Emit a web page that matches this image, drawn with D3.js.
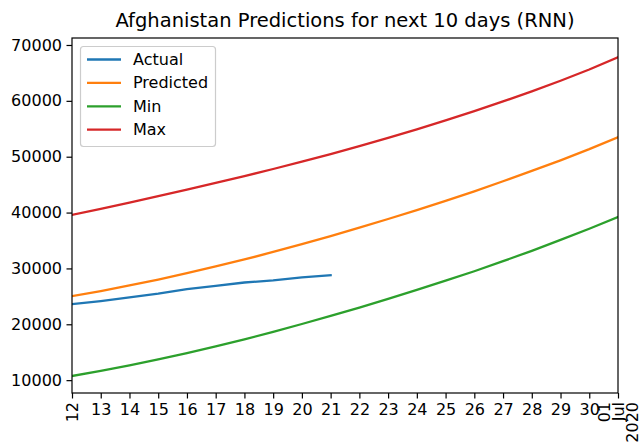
<!DOCTYPE html>
<html>
<head>
<meta charset="utf-8">
<script src="https://cdn.jsdelivr.net/npm/d3@7"></script>
<style>
  html, body { margin: 0; padding: 0; background: #fff; }
  svg { display: block; font-family: "DejaVu Sans", sans-serif; }
</style>
</head>
<body>
<svg id="chart" width="641" height="442"></svg>
<script>
// Daily dates shown on the x axis (June 12 – July 1, 2020)
const dates = [
  "2020-06-12", "2020-06-13", "2020-06-14", "2020-06-15", "2020-06-16",
  "2020-06-17", "2020-06-18", "2020-06-19", "2020-06-20", "2020-06-21",
  "2020-06-22", "2020-06-23", "2020-06-24", "2020-06-25", "2020-06-26",
  "2020-06-27", "2020-06-28", "2020-06-29", "2020-06-30", "2020-07-01"
];

// Confirmed cases observed so far (first 10 days)
const actual = [23600, 24150, 24800, 25480, 26280, 26870, 27480, 27870, 28380, 28790];

// Model output
const predicted = [25050, 25950, 26950, 28000, 29150, 30350, 31600, 32950, 34350, 35800,
                   37300, 38850, 40450, 42100, 43800, 45600, 47450, 49350, 51350, 53500];
const minimum   = [10750, 11650, 12650, 13700, 14850, 16050, 17300, 18650, 20050, 21500,
                   23000, 24550, 26150, 27800, 29500, 31300, 33150, 35100, 37100, 39200];
const maximum   = [39600, 40680, 41790, 42930, 44100, 45300, 46530, 47800, 49110, 50470,
                   51890, 53370, 54910, 56510, 58170, 59890, 61690, 63590, 65620, 67800];

const seriesNames  = ["Actual", "Predicted", "Min", "Max"];
const seriesColors = ["#1f77b4", "#ff7f0e", "#2ca02c", "#d62728"];

const yTicks = [10000, 20000, 30000, 40000, 50000, 60000, 70000];
const yLimits = [7700, 71250];
const minorTickLabels = ["13", "14", "15", "16", "17", "18", "19", "20", "21",
                         "22", "23", "24", "25", "26", "27", "28", "29", "30"];
const majorTickLabels = [["12"], ["01", "Jul", "2020"]];

const titleText = "Afghanistan Predictions for next 10 days (RNN)";

// ---- layout ----
const svg = d3.select("#chart");
const margin = { left: 72, right: 23, top: 38, bottom: 49 };
const W = 641, H = 442;
const plotW = W - margin.left - margin.right;
const plotH = H - margin.top - margin.bottom;

const parse = d3.utcParse("%Y-%m-%d");
const days = dates.map(parse);

const x = d3.scaleUtc()
  .domain(d3.extent(days))
  .range([margin.left, margin.left + plotW]);

const y = d3.scaleLinear()
  .domain(yLimits)
  .range([margin.top + plotH, margin.top]);

const g = svg.append("g");

// ---- lines ----
const line = d3.line()
  .x(d => x(d[0]))
  .y(d => y(d[1]));

const seriesData = [actual, predicted, minimum, maximum].map(vals =>
  vals.map((v, i) => [days[i], v]));

g.append("defs").append("clipPath").attr("id", "plotClip")
  .append("rect")
  .attr("x", margin.left).attr("y", margin.top)
  .attr("width", plotW).attr("height", plotH);

g.append("g").attr("clip-path", "url(#plotClip)")
  .selectAll("path.series")
  .data(seriesData)
  .join("path")
  .attr("class", "series")
  .attr("fill", "none")
  .attr("stroke", (d, i) => seriesColors[i])
  .attr("stroke-width", 2.3)
  .attr("stroke-linejoin", "round")
  .attr("stroke-linecap", "square")
  .attr("d", line);

// ---- axes ----
const fontSize = 16;

const yAxis = d3.axisLeft(y)
  .tickValues(yTicks)
  .tickFormat(d3.format("d"))
  .tickSize(5.5)
  .tickPadding(4.5);

const yG = g.append("g")
  .attr("transform", `translate(${margin.left},0)`)
  .call(yAxis);
yG.select(".domain").remove();
yG.selectAll("line").attr("stroke", "#000").attr("stroke-width", 1.2);
yG.selectAll("text")
  .attr("font-size", fontSize)
  .attr("font-family", "DejaVu Sans, sans-serif")
  .attr("fill", "#000");

// minor day ticks (every day), labels for the inner days
const xAxis = d3.axisBottom(x)
  .tickValues(days)
  .tickFormat((d, i) => (i === 0 || i === days.length - 1) ? "" : minorTickLabels[i - 1])
  .tickSize(5.5)
  .tickPadding(5);

const xG = g.append("g")
  .attr("transform", `translate(0,${margin.top + plotH})`)
  .call(xAxis);
xG.select(".domain").remove();
xG.selectAll("line").attr("stroke", "#000").attr("stroke-width", 1.2);
xG.selectAll("text")
  .attr("font-size", fontSize)
  .attr("font-family", "DejaVu Sans, sans-serif")
  .attr("fill", "#000");

// major labels, rotated
const majorDays = [days[0], days[days.length - 1]];
const labelTop = margin.top + plotH + 9;
const lineGap = 14;
majorDays.forEach((d, k) => {
  const lines = majorTickLabels[k];
  const cx = x(d);
  lines.forEach((txt, j) => {
    const off = (j - (lines.length - 1) / 2) * lineGap;
    g.append("text")
      .attr("transform", `translate(${cx + off},${labelTop}) rotate(-90)`)
      .attr("text-anchor", "end")
      .attr("dominant-baseline", "central")
      .attr("font-size", fontSize)
      .attr("fill", "#000")
      .text(txt);
  });
});

// ---- frame ----
g.append("rect")
  .attr("x", margin.left).attr("y", margin.top)
  .attr("width", plotW).attr("height", plotH)
  .attr("fill", "none")
  .attr("stroke", "#000")
  .attr("stroke-width", 1.2);

// ---- title ----
g.append("text")
  .attr("x", margin.left + plotW / 2)
  .attr("y", 27)
  .attr("text-anchor", "middle")
  .attr("font-size", 19.5)
  .attr("fill", "#000")
  .text(titleText);

// ---- legend ----
const leg = g.append("g");
leg.append("rect")
  .attr("x", 80.5).attr("y", 46.5)
  .attr("width", 135).attr("height", 100)
  .attr("rx", 3)
  .attr("fill", "#fff").attr("fill-opacity", 0.8)
  .attr("stroke", "#cccccc").attr("stroke-width", 1.2);

seriesNames.forEach((name, i) => {
  const yy = 59.5 + i * 23.4;
  leg.append("line")
    .attr("x1", 87).attr("x2", 121)
    .attr("y1", yy).attr("y2", yy)
    .attr("stroke", seriesColors[i]).attr("stroke-width", 2.3);
  leg.append("text")
    .attr("x", 133).attr("y", yy)
    .attr("dominant-baseline", "central")
    .attr("font-size", fontSize)
    .attr("fill", "#000")
    .text(name);
});
</script>
</body>
</html>
